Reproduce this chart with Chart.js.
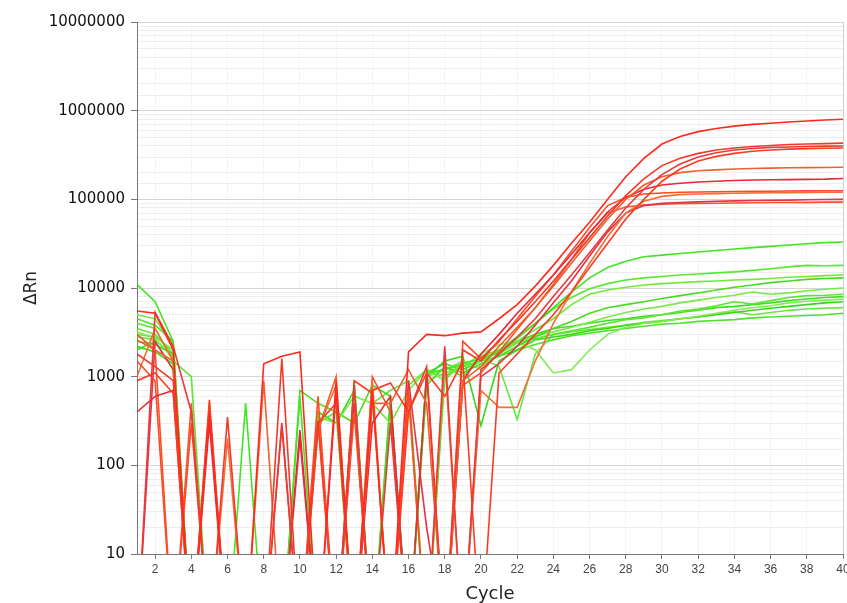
<!DOCTYPE html>
<html>
<head>
<meta charset="utf-8">
<script src="https://cdn.jsdelivr.net/npm/chart.js@4.4.0/dist/chart.umd.min.js"></script>
<style>html,body{margin:0;padding:0;background:#fff;overflow:hidden}</style>
</head>
<body>
<canvas id="ampChart" width="847" height="603"></canvas>
<script>
const cycles = [1,2,3,4,5,6,7,8,9,10,11,12,13,14,15,16,17,18,19,20,21,22,23,24,25,26,27,28,29,30,31,32,33,34,35,36,37,38,39,40];
const xTicks = [2,4,6,8,10,12,14,16,18,20,22,24,26,28,30,32,34,36,38,40];
const yTicks = [10,100,1000,10000,100000,1000000,10000000];

// red wells (values below 10 fall off the bottom of the plot)
const red1 = [5500,5200,2000,1,400,1,1,1400,1700,1900,1,900,1,700,1,1900,3000,2900,3100,3200,4500,6500,10500,18000,32000,55000,100000,180000,290000,420000,510000,580000,630000,670000,700000,720000,745000,765000,785000,800000];
const red2 = [1800,1300,900,1,1,350,1,1,1600,1,300,500,1,700,850,400,1300,1,2000,1500,2600,4200,7000,12000,21000,37000,65000,110000,170000,240000,290000,330000,360000,380000,395000,405000,415000,420000,425000,430000];
const red3 = [1,5300,2200,400,1,1,1,1,300,1,1,1,800,1,300,1,1,2200,1,1200,1800,2800,4500,8000,14000,25000,45000,80000,130000,190000,250000,300000,335000,360000,375000,385000,390000,395000,398000,400000];
const red4 = [900,1100,650,1,550,1,1,1,280,1,320,1,900,650,1,400,1100,600,1500,1,1100,1800,3000,5000,9000,17000,32000,60000,100000,160000,220000,270000,305000,330000,348000,360000,368000,373000,377000,380000];
const red5 = [2600,2000,1500,1,1,1,1,900,1,1,250,1000,1,500,500,1200,500,1,900,1300,2200,3600,6000,10500,19000,34000,60000,100000,145000,180000,200000,210000,215000,220000,223000,225000,227000,228000,229000,230000];
const red6 = [400,600,700,1,300,1,1,1,1,250,1,700,1,300,600,1,1100,1,900,1800,3000,5200,8500,14000,24000,42000,72000,105000,130000,145000,152000,157000,160000,163000,165000,166000,167000,168000,169000,172000];
const red7 = [1500,900,1,300,1,1,1,1,1,1,600,1,400,1,1,700,1,1,2500,1600,2500,4500,8000,14000,26000,48000,85000,105000,115000,118000,120000,121000,122000,122500,123000,123500,124000,124500,125000,125000];
const red8 = [1000,3500,1500,1,1,200,1,1,1,1,250,800,1,900,1,600,1,1600,1,700,450,450,1500,4000,9000,19000,38000,70000,95000,108000,113000,115000,116000,117000,118000,118500,119000,119500,120000,120000];
const red9 = [1,2500,1200,1,450,1,1,1,1,200,1,1,500,1,1,900,20,1,1,1000,1400,2200,3800,6800,12000,23000,43000,70000,85000,90000,92000,93500,95000,96000,97000,97500,98000,99000,99500,100000];
const red10 = [3000,2000,1,500,1,1,1,1,1,1,300,1,1,1000,400,1,1,1,800,1100,1900,3400,6000,11000,21000,42000,70000,82000,86000,88000,89000,90000,90500,91000,91500,92000,92000,92500,93000,93000];

// green wells
const green1 = [11000,7000,2500,1,1,1,500,1,1,600,1,1,900,1,1,1,1100,1200,1400,1600,1900,2700,4000,6000,9000,13000,17000,20000,22500,23500,24500,25500,26500,27500,28500,29500,30500,31500,32500,33000];
const green2 = [4000,3500,1500,1000,1,1,1,1,1,1,400,1,500,1,1,700,1,1000,1300,1500,2000,2800,4000,5800,7800,9800,11200,12300,13000,13500,14000,14400,14800,15200,15800,16500,17300,18000,17800,18000];
const green3 = [3000,2800,2000,1,500,1,1,1,1,1,350,300,600,500,300,700,1200,900,1500,1300,1800,2500,3400,4500,6500,8500,9500,10200,10800,11200,11500,11800,12000,12300,12500,12800,13200,13500,13800,14000];
const green4 = [2500,2300,1800,1,1,1,1,1,1,700,500,400,300,800,600,1,800,1300,1100,1400,1700,2200,2800,3500,4200,5200,6000,6500,7000,7600,8200,8800,9500,10200,10800,11500,12000,12500,12800,13000];
const green5 = [5000,4500,2200,1,1,1,1,1,1,1,1,1,1,700,1,1,1000,1200,1500,1200,1800,2400,2900,3200,3600,4100,4700,5300,5800,6200,6800,7300,7800,8300,9000,8500,8800,9300,9700,10000];
const green6 = [3500,3000,1800,1,1,1,1,1,1,1,300,400,1,500,700,900,1,1300,1000,1700,2000,2400,2700,3000,3300,3600,4000,4400,4600,5000,5500,5800,6300,7000,6600,7200,7800,8200,8300,8500];
const green7 = [2000,2500,1200,1,1,1,1,1,1,1,1,1,1,1,600,1,1100,1400,1200,1500,1900,2500,3000,3500,3700,4000,4300,4500,4800,5000,5300,5600,6000,6200,6500,6800,7200,7500,7800,8000];
const green8 = [3200,2700,1600,1,1,1,1,1,1,1,1,1,1,1,1,1,900,1100,1300,1800,2300,2500,2000,1100,1200,2000,3000,3600,4000,4200,4500,4800,5200,5600,6000,6300,6800,7100,7300,7500];
const green9 = [2200,1900,1400,1,1,1,1,1,1,1,400,300,700,1,500,1,1000,1500,1700,280,1500,2000,2600,2800,3000,3300,3500,3800,4000,4200,4500,4700,5000,5300,5600,5900,6200,6500,6800,7000];
const green10 = [2800,2600,1700,1,1,1,1,1,1,1,1,1,1,1,1,800,1200,1000,1400,1600,1300,330,1800,3000,3200,3400,3600,3800,4100,4300,4500,4700,5100,5400,5000,5300,5600,5800,5900,6000];
const green11 = [4500,3800,2500,1,1,1,1,1,1,1,1,1,1,1,1,1,1,1100,1300,1500,1700,2000,2300,2600,2900,3100,3300,3500,3700,3900,4000,4200,4300,4400,4600,4700,4800,4900,5000,5200];

const redSeries = [red1, red2, red3, red4, red5, red6, red7, red8, red9, red10];
const greenSeries = [green1, green2, green3, green4, green5, green6, green7, green8, green9, green10, green11];
const redColors = ["#ff2a1e","#f23a2a","#e83a3a","#ff3b20","#f0602e","#e8283a","#ff4a28","#f07038","#e83048","#f5552a"];
const greenColors = ["#40e622","#58e82e","#72ea3c","#46dc1e","#7ae848","#5ee234","#3ede26","#86ea56","#36d81a","#66e83e","#4ee22a"];

function toDataset(values, color) {
    return {
        data: cycles.map((c, i) => ({x: c, y: values[i]})),
        borderColor: color,
        borderWidth: 1.6,
        pointRadius: 0,
        tension: 0,
        fill: false
    };
}

const datasets = [
    ...redSeries.map((s, i) => toDataset(s, redColors[i])),
    ...greenSeries.map((s, i) => toDataset(s, greenColors[i]))
];

const ampChart = new Chart(
    document.getElementById("ampChart"),
    {
        type: "line",
        data: { datasets: datasets },
        options: {
            responsive: false,
            animation: false,
            layout: { padding: { top: 22, right: 4, left: 0, bottom: 0 } },
            plugins: { legend: { display: false }, tooltip: { enabled: false } },
            scales: {
                x: {
                    type: "linear",
                    min: 1,
                    max: 40,
                    afterBuildTicks: s => { s.ticks = xTicks.map(v => ({value: v})); },
                    afterFit: s => { s.height = 49; s.paddingRight = 0; s.paddingLeft = 0; },
                    grid: {
                        color: ctx => ctx.tick && ctx.tick.value === 40 ? "#cfcfcf" : "rgba(0,0,0,0.04)",
                        tickColor: "#777",
                        tickLength: 5
                    },
                    border: { color: "#777", width: 1 },
                    ticks: {
                        font: { family: "Liberation Sans", size: 12 },
                        color: "#444",
                        padding: 3,
                        maxRotation: 0
                    },
                    title: {
                        display: true,
                        text: "Cycle",
                        font: { family: "DejaVu Sans", size: 18, lineHeight: 1 },
                        color: "#222",
                        padding: 0
                    }
                },
                y: {
                    type: "logarithmic",
                    min: 10,
                    max: 10000000,
                    afterFit: s => { s.width = 137; },
                    grid: {
                        color: ctx => yTicks.includes(ctx.tick && ctx.tick.value) ? "#d6d6d6" : "#ededed",
                        tickColor: ctx => yTicks.includes(ctx.tick && ctx.tick.value) ? "#777" : "rgba(0,0,0,0)",
                        tickLength: 6
                    },
                    border: { color: "#777", width: 1 },
                    ticks: {
                        autoSkip: false,
                        padding: 6,
                        font: { family: "DejaVu Sans", size: 15 },
                        color: "#111",
                        callback: v => yTicks.includes(v) ? String(v) : ""
                    },
                    title: {
                        display: true,
                        text: "ΔRn",
                        font: { family: "DejaVu Sans", size: 17 },
                        color: "#222",
                        padding: { top: 21, bottom: 0 }
                    }
                }
            }
        }
    }
);
</script>
</body>
</html>
